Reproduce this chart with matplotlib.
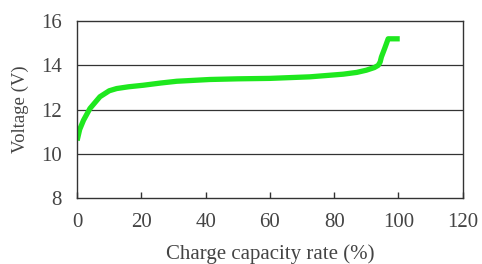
import matplotlib
matplotlib.use("Agg")
import matplotlib.pyplot as plt

capacity = [0, 0.8, 2.0, 4.0, 7.1, 10.0, 12.3, 16.0, 20.6, 26.0, 31.0, 41.3, 50.0, 60.0, 72.4, 82.8,
            87.0, 90.0, 92.5, 93.7, 94.3, 94.7, 95.8, 96.8, 98.5, 100.4]
voltage = [10.6, 11.1, 11.52, 12.05, 12.58, 12.85, 12.95, 13.03, 13.1, 13.2, 13.28, 13.36, 13.39, 13.41, 13.48, 13.6,
           13.68, 13.78, 13.9, 14.0, 14.15, 14.38, 14.8, 15.2, 15.2, 15.2]
xticks = [0, 20, 40, 60, 80, 100, 120]
yticks = [8, 10, 12, 14, 16]

plt.rcParams['font.family'] = ['Liberation Serif', 'DejaVu Serif']

fig = plt.figure(figsize=(4.82, 2.64), dpi=100)
ax = fig.add_axes([0.16, 0.25, 0.8, 0.67])
ax.plot(capacity, voltage, color='#1ee81e', lw=3.8, solid_capstyle='butt', solid_joinstyle='round')
ax.set_xlim(0, 120)
ax.set_ylim(8, 16)
ax.set_xticks(xticks)
ax.set_yticks(yticks)
for y in [10, 12, 14]:
    ax.axhline(y, color='#333333', lw=0.9, zorder=0)
ax.tick_params(axis='x', direction='in', length=4, width=1, color='#333333', pad=11, labelsize=15, labelcolor='#444444')
ax.tick_params(axis='y', length=0, pad=11, labelsize=15, labelcolor='#444444')
for s in ax.spines.values():
    s.set_color('#333333')
    s.set_linewidth(1.0)
ax.set_xlabel('Charge capacity rate (%)', fontsize=15, color='#444444', va='bottom')
ax.xaxis.set_label_coords(0.5, -0.375)
ax.set_ylabel('Voltage (V)', fontsize=13.5, color='#444444', labelpad=0)
ax.yaxis.set_label_coords(-0.125, 0.5)
fig.savefig('out.png', dpi=100)
